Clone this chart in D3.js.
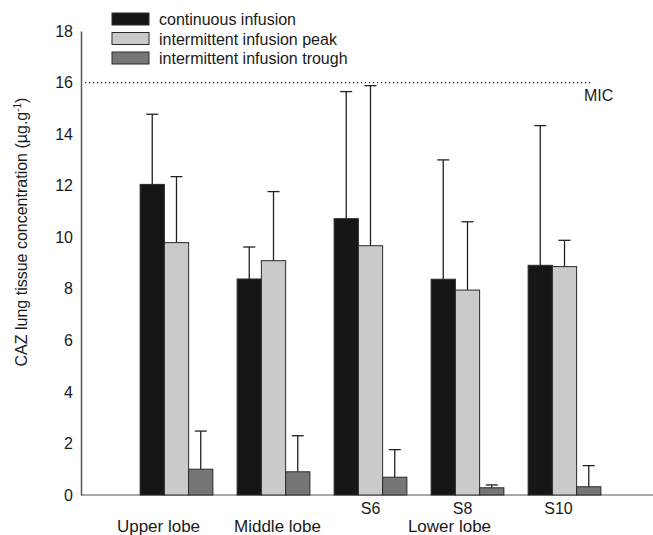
<!DOCTYPE html>
<html>
<head>
<meta charset="utf-8">
<script src="https://cdn.jsdelivr.net/npm/d3@7"></script>
<style>
  body { margin: 0; background: #fff; }
  svg text { font-family: "Liberation Sans", Arial, sans-serif; fill: #1a1a1a; }
</style>
</head>
<body>
<svg id="chart"></svg>
<script>
// Data
const groups = ["Upper lobe", "Middle lobe", "S6", "S8", "S10"];
const series = ["continuous infusion", "intermittent infusion peak", "intermittent infusion trough"];
const continuous = [12.05, 8.38, 10.72, 8.37, 8.91];
const continuousErr = [14.77, 9.62, 15.65, 13.0, 14.33];
const peak = [9.79, 9.09, 9.67, 7.95, 8.86];
const peakErr = [12.35, 11.77, 15.88, 10.6, 9.88];
const trough = [1.0, 0.9, 0.69, 0.28, 0.32];
const troughErr = [2.48, 2.3, 1.76, 0.39, 1.14];
const yTicks = [0, 2, 4, 6, 8, 10, 12, 14, 16, 18];
const segmentLabels = ["", "", "S6", "S8", "S10"];
const lobeLabels = ["Upper lobe", "Middle lobe", "", "Lower lobe", ""];
const mic = 16;

const values = [continuous, peak, trough];
const errors = [continuousErr, peakErr, troughErr];
const colors = ["#161616", "#c9cacc", "#767676"];

const width = 653;
const height = 535;

const svg = d3.select("#chart")
    .attr("width", width)
    .attr("height", height);

// scales
const y = d3.scaleLinear().domain([0, 18]).range([495, 31]);

const x = d3.scaleBand()
    .domain(groups)
    .range([128, 613])
    .paddingInner(0.25)
    .paddingOuter(0.125);

const xs = d3.scaleBand()
    .domain(series)
    .range([0, x.bandwidth()]);

// flatten into one row per bar
const bars = [];
groups.forEach((g, i) => {
    series.forEach((s, j) => {
        bars.push({ group: g, series: s, j: j, value: values[j][i], err: errors[j][i] });
    });
});

// y axis (line + labels, no tick marks)
const yAxis = d3.axisLeft(y).tickValues(yTicks).tickSize(0).tickPadding(8);
const yg = svg.append("g")
    .attr("transform", "translate(81,0)")
    .call(yAxis);
yg.select(".domain").attr("stroke", "#555").attr("stroke-width", 1.5);
yg.selectAll("text")
    .style("font-size", "16px")
    .style("font-family", "'Liberation Sans', Arial, sans-serif")
    .attr("fill", "#1a1a1a");

// x baseline
svg.append("line")
    .attr("x1", 81).attr("x2", 653)
    .attr("y1", y(0)).attr("y2", y(0))
    .attr("stroke", "#555")
    .attr("stroke-width", 1.2);

// MIC line
svg.append("line")
    .attr("x1", 85).attr("x2", 592)
    .attr("y1", y(mic)).attr("y2", y(mic))
    .attr("stroke", "#333")
    .attr("stroke-width", 1.2)
    .attr("stroke-dasharray", "1.2,2.8");

svg.append("text")
    .attr("x", 584).attr("y", y(mic) + 18)
    .style("font-size", "16px")
    .text("MIC");

// error bars (upper only)
const eb = svg.append("g")
    .attr("stroke", "#222")
    .attr("stroke-width", 1.3);

eb.selectAll(".stem")
    .data(bars)
    .join("line")
    .attr("x1", d => x(d.group) + xs(d.series) + xs.bandwidth() / 2)
    .attr("x2", d => x(d.group) + xs(d.series) + xs.bandwidth() / 2)
    .attr("y1", d => y(d.value))
    .attr("y2", d => y(d.err));

eb.selectAll(".cap")
    .data(bars)
    .join("line")
    .attr("x1", d => x(d.group) + xs(d.series) + xs.bandwidth() / 2 - 6)
    .attr("x2", d => x(d.group) + xs(d.series) + xs.bandwidth() / 2 + 6)
    .attr("y1", d => y(d.err))
    .attr("y2", d => y(d.err));

// bars
svg.append("g")
    .selectAll("rect")
    .data(bars)
    .join("rect")
    .attr("x", d => x(d.group) + xs(d.series))
    .attr("y", d => y(d.value))
    .attr("width", xs.bandwidth())
    .attr("height", d => y(0) - y(d.value))
    .attr("fill", d => colors[d.j])
    .attr("stroke", "#2a2a2a")
    .attr("stroke-width", 1);

// category labels
const lobeShift = [-18, 4, 0, -18, 0];
const segShift = [0, 0, 0, -5, -6];

svg.append("g")
    .selectAll("text")
    .data(groups)
    .join("text")
    .attr("x", (d, i) => x(d) + x.bandwidth() / 2 + segShift[i])
    .attr("y", 514)
    .attr("text-anchor", "middle")
    .style("font-size", "16px")
    .text((d, i) => segmentLabels[i]);

svg.append("g")
    .selectAll("text")
    .data(groups)
    .join("text")
    .attr("x", (d, i) => x(d) + x.bandwidth() / 2 + lobeShift[i])
    .attr("y", 532)
    .attr("text-anchor", "middle")
    .style("font-size", "17px")
    .text((d, i) => lobeLabels[i]);

// y axis title
const title = svg.append("text")
    .attr("transform", "translate(27,232) rotate(-90)")
    .attr("text-anchor", "middle")
    .style("font-size", "16px");
title.append("tspan").text("CAZ lung tissue concentration (\u00b5g.g");
title.append("tspan").attr("dy", -6).style("font-size", "10px").text("-1");
title.append("tspan").attr("dy", 6).text(")");

// legend
const legend = svg.append("g")
    .selectAll("g")
    .data(series)
    .join("g")
    .attr("transform", (d, i) => `translate(112,${13 + i * 19.5})`);

legend.append("rect")
    .attr("width", 37)
    .attr("height", 12)
    .attr("fill", (d, i) => colors[i])
    .attr("stroke", "#2a2a2a")
    .attr("stroke-width", 1);

legend.append("text")
    .attr("x", 47)
    .attr("y", 12)
    .style("font-size", "16px")
    .text(d => d);
</script>
</body>
</html>
